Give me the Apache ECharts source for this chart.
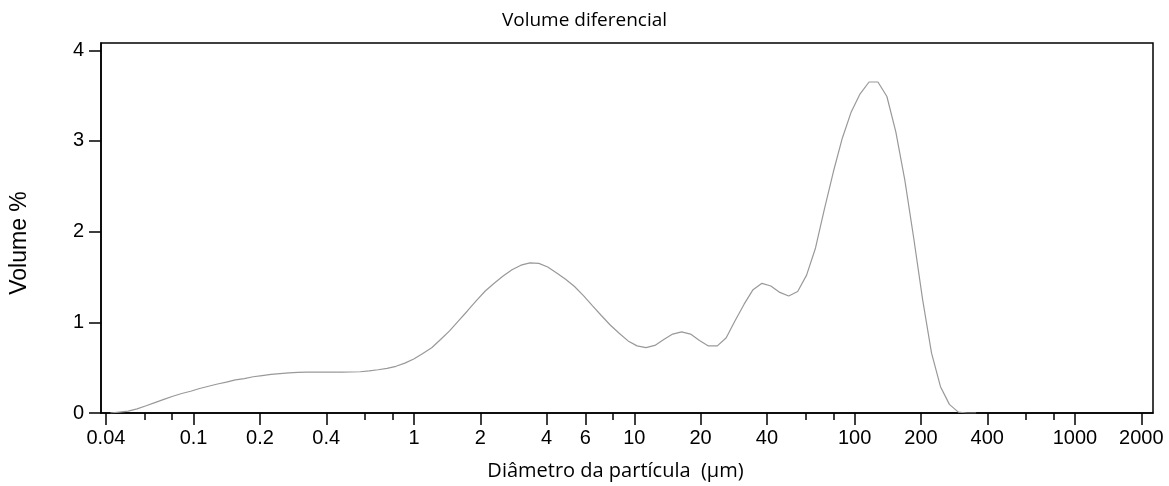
<!DOCTYPE html>
<html>
<head>
<meta charset="utf-8">
<script src="https://cdn.jsdelivr.net/npm/echarts@6/dist/echarts.min.js"></script>
<style>
html,body{margin:0;padding:0;background:#fff;}
#chart{width:1169px;height:486px;}
</style>
</head>
<body>
<div id="chart"></div>
<script>
// Particle diameters (µm), channel centres
const diameters = [
  0.0419, 0.0460, 0.0505, 0.0554, 0.0609, 0.0667, 0.0733, 0.0805, 0.0883, 0.0970,
  0.1065, 0.1169, 0.1284, 0.1409, 0.1547, 0.1698, 0.1864, 0.2046, 0.2246, 0.2466,
  0.2707, 0.2972, 0.3263, 0.3581, 0.3929, 0.4317, 0.4736, 0.5197, 0.5711, 0.6266,
  0.6874, 0.7555, 0.8288, 0.9095, 0.9985, 1.097, 1.204, 1.321, 1.451, 1.593,
  1.748, 1.920, 2.107, 2.313, 2.539, 2.787, 3.060, 3.359, 3.687, 4.048,
  4.444, 4.879, 5.355, 5.879, 6.453, 7.084, 7.777, 8.538, 9.372, 10.29,
  11.30, 12.40, 13.61, 14.94, 16.40, 18.00, 19.76, 21.70, 23.82, 26.14,
  28.70, 31.51, 34.59, 37.97, 41.68, 45.76, 50.23, 55.15, 60.53, 66.45,
  72.95, 80.08, 87.91, 96.50, 105.9, 116.3, 127.6, 140.1, 153.8, 168.9,
  185.4, 203.5, 223.4, 245.3, 269.2, 295.6, 324.4, 356.1
];
// Differential volume (%)
const volume = [
  0.00, 0.01, 0.02, 0.045, 0.08, 0.115, 0.15, 0.185, 0.215, 0.24,
  0.27, 0.295, 0.32, 0.34, 0.365, 0.38, 0.40, 0.413, 0.425, 0.435,
  0.442, 0.447, 0.45, 0.45, 0.45, 0.45, 0.451, 0.452, 0.455, 0.465,
  0.477, 0.493, 0.515, 0.55, 0.595, 0.655, 0.72, 0.81, 0.905, 1.015,
  1.125, 1.24, 1.345, 1.43, 1.51, 1.58, 1.63, 1.655, 1.65, 1.61,
  1.545, 1.475, 1.395, 1.295, 1.185, 1.075, 0.97, 0.88, 0.795, 0.74,
  0.72, 0.745, 0.81, 0.87, 0.895, 0.87, 0.80, 0.74, 0.74, 0.83,
  1.02, 1.20, 1.36, 1.43, 1.40, 1.33, 1.29, 1.34, 1.52, 1.82,
  2.25, 2.66, 3.03, 3.32, 3.52, 3.65, 3.65, 3.49, 3.10, 2.57,
  1.93, 1.25, 0.66, 0.29, 0.095, 0.01, 0.0, 0.0
];
const xTickValues = [0.04, 0.1, 0.2, 0.4, 1, 2, 4, 6, 10, 20, 40, 100, 200, 400, 1000, 2000];
const xTickLabels = ['0.04', '0.1', '0.2', '0.4', '1', '2', '4', '6', '10', '20', '40', '100', '200', '400', '1000', '2000'];
const xMinorTicks = [0.06, 0.08, 0.6, 0.8, 8, 60, 80, 600, 800];
const yTickValues = [0, 1, 2, 3, 4];

const chart = echarts.init(document.getElementById('chart'), null, {renderer: 'canvas'});
const seriesData = diameters.map((d, i) => [d, volume[i]]);
const xMin = 0.038, xMax = 2260;
const axisColor = '#000';
const tickFont = {fontFamily: 'Liberation Sans', fontSize: 20, color: '#000'};

chart.setOption({
  animation: false,
  backgroundColor: '#fff',
  title: {
    text: 'Volume diferencial',
    left: 'center',
    top: 6,
    textStyle: {fontFamily: 'Open Sans', fontSize: 19, fontWeight: 'normal', color: '#000'}
  },
  grid: {
    left: 101, right: 16, top: 43, bottom: 73,
    show: true, borderColor: '#000', borderWidth: 1.5, backgroundColor: 'transparent'
  },
  xAxis: [{
    type: 'log',
    min: xMin, max: xMax,
    position: 'bottom',
    name: 'Diâmetro da partícula  (µm)',
    nameLocation: 'middle',
    nameGap: 48,
    nameTextStyle: {fontFamily: 'Open Sans', fontSize: 20, color: '#000', padding: [0, 23, 0, 0]},
    axisLine: {show: true, lineStyle: {color: axisColor, width: 1.5}},
    axisTick: {show: true, length: 12, inside: false, customValues: xTickValues, lineStyle: {color: axisColor, width: 1.5}},
    axisLabel: {
      show: true, margin: 15, customValues: xTickValues,
      formatter: function (v) {
        const i = xTickValues.findIndex(t => Math.abs(t - v) / t < 1e-4);
        return i >= 0 ? xTickLabels[i] : '';
      },
      ...tickFont
    },
    splitLine: {show: false},
    minorTick: {show: false}
  }, {
    type: 'log',
    min: xMin, max: xMax,
    position: 'bottom',
    axisLine: {show: false},
    axisTick: {show: true, length: 7, inside: false, customValues: xMinorTicks, lineStyle: {color: axisColor, width: 1.5}},
    axisLabel: {show: false},
    splitLine: {show: false}
  }],
  yAxis: {
    type: 'value',
    min: 0, max: 4.08,
    name: 'Volume %',
    nameLocation: 'middle',
    nameGap: 70,
    nameTextStyle: {fontFamily: 'Liberation Sans', fontSize: 23, color: '#000', padding: [0, 30, 0, 0]},
    axisLine: {show: true, lineStyle: {color: axisColor, width: 1.5}},
    axisTick: {show: true, length: 12, inside: false, customValues: yTickValues, lineStyle: {color: axisColor, width: 1.5}},
    axisLabel: {show: true, margin: 17, customValues: yTickValues, ...tickFont},
    splitLine: {show: false}
  },
  series: [{
    type: 'line',
    xAxisIndex: 0,
    data: seriesData,
    showSymbol: false,
    symbol: 'none',
    smooth: false,
    lineStyle: {color: '#999999', width: 1.2},
    z: 3
  }]
});
</script>
</body>
</html>
